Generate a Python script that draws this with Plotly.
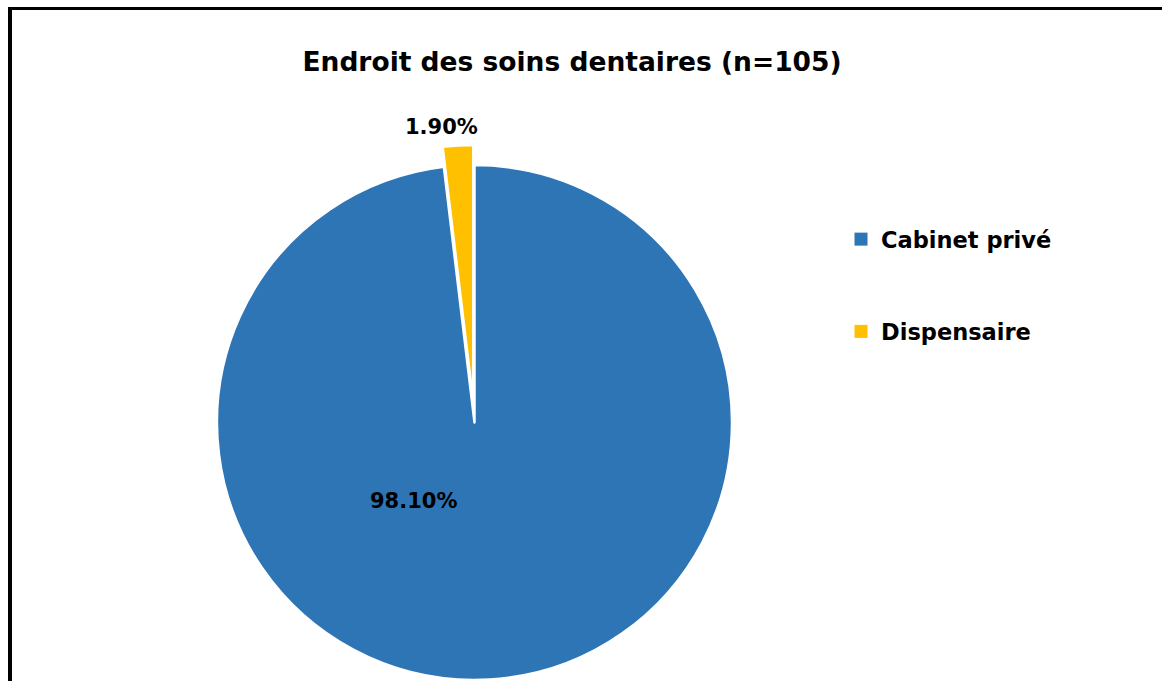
import math
import plotly.graph_objects as go

# ---- data ----
categories = ["Cabinet privé", "Dispensaire"]
values = [98.10, 1.90]
colors = ["#2E75B6", "#FFC000"]
title_text = "Endroit des soins dentaires (n=105)"

W, H = 1162, 681
FONT = "DejaVu Sans"
CLEAR = "rgba(0,0,0,0)"

# pie geometry in pixels
cx, cy, r = 474.5, 422.5, 257.5
pull_px = 20.0
small_angle = 360 * values[1] / sum(values)
half_angle = math.radians(small_angle / 2)
cx2 = cx - pull_px * math.sin(half_angle)
cy2 = cy - pull_px * math.cos(half_angle)


def dom(cxp, cyp, rad):
    return dict(
        x=[(cxp - rad) / W, (cxp + rad) / W],
        y=[(H - cyp - rad) / H, (H - cyp + rad) / H],
    )


fig = go.Figure()

# main pie: blue slice, with the small slice left empty
fig.add_trace(go.Pie(
    labels=[categories[1], categories[0]],
    values=[values[1], values[0]],
    marker=dict(colors=[CLEAR, colors[0]],
                line=dict(color=["white", "white"], width=[0, 2.5])),
    sort=False, direction="counterclockwise", rotation=-small_angle,
    textinfo="none", hoverinfo="label+percent",
    domain=dom(cx, cy, r), showlegend=False,
))

# pulled-out small slice (yellow)
fig.add_trace(go.Pie(
    labels=[categories[1], categories[0]],
    values=[values[1], values[0]],
    marker=dict(colors=[colors[1], CLEAR],
                line=dict(color=["white", "white"], width=[2.5, 0])),
    sort=False, direction="counterclockwise", rotation=-small_angle,
    textinfo="none", hoverinfo="label+percent",
    domain=dom(cx2, cy2, r), showlegend=False,
))

# legend entries
for name, col, grp in zip(categories, colors, ["a", "b"]):
    fig.add_trace(go.Scatter(
        x=[None], y=[None], mode="markers", name=name, legendgroup=grp,
        marker=dict(symbol="square", size=13, color=col),
        hoverinfo="skip",
    ))

# data labels
fig.add_annotation(x=413.5 / W, y=1 - 501 / H, xref="paper", yref="paper",
                   xanchor="center", yanchor="middle",
                   text=f"{values[0]:.2f}%", showarrow=False,
                   font=dict(family=FONT, size=21, color="black", weight="bold"))
fig.add_annotation(x=441 / W, y=1 - 127 / H, xref="paper", yref="paper",
                   xanchor="center", yanchor="middle",
                   text=f"{values[1]:.2f}%", showarrow=False,
                   font=dict(family=FONT, size=21, color="black", weight="bold"))

# chart frame (cropped chart area)
fig.add_shape(type="line", xref="paper", yref="paper",
              x0=10 / W, x1=10 / W, y0=0, y1=1 - 7 / H,
              line=dict(color="black", width=4))
fig.add_shape(type="line", xref="paper", yref="paper",
              x0=8 / W, x1=1, y0=1 - 8.5 / H, y1=1 - 8.5 / H,
              line=dict(color="black", width=3))

fig.update_layout(
    width=W, height=H,
    margin=dict(l=0, r=0, t=0, b=0),
    paper_bgcolor="white", plot_bgcolor="white",
    xaxis=dict(visible=False), yaxis=dict(visible=False),
    title=dict(text=title_text, x=572 / W, y=1 - 62 / H,
               xanchor="center", yanchor="middle",
               font=dict(family=FONT, size=26.5, color="black", weight="bold")),
    showlegend=True,
    legend=dict(x=841 / W, y=1 - 218 / H, xanchor="left", yanchor="top",
                traceorder="grouped", tracegroupgap=60,
                font=dict(family=FONT, size=22.5, color="black", weight="bold"),
                bgcolor=CLEAR),
)

fig.write_html("out.html", config={"displayModeBar": False},
               post_script="document.body.style.margin='0';document.body.style.overflow='hidden';")
